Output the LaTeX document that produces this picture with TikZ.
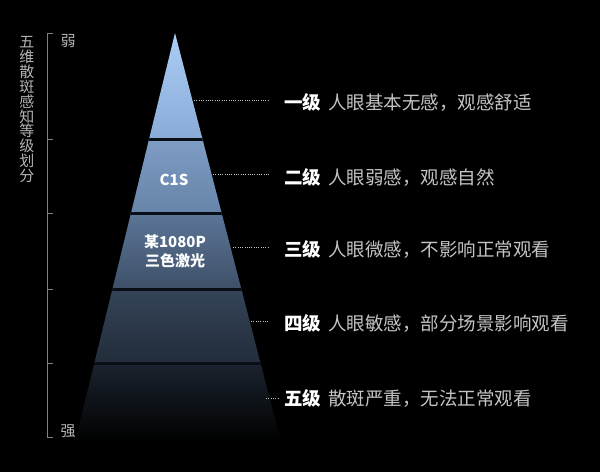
\documentclass[tikz,border=0pt]{standalone}
\usepackage{fontspec}
\setmainfont{Noto Sans CJK SC}
\usepackage{xcolor}
\usetikzlibrary{positioning}

\definecolor{descgray}{HTML}{C4C4C4}
\definecolor{sidegray}{HTML}{B4B4B4}
\definecolor{linegray}{HTML}{808080}
\definecolor{sepblue}{HTML}{0A0E16}
\definecolor{cA}{HTML}{ABCEF6}
\definecolor{cB}{HTML}{8AABD6}
\definecolor{cC}{HTML}{6683A8}
\definecolor{cD}{HTML}{3E5068}
\definecolor{cE}{HTML}{222C3A}

\begin{document}
\begin{tikzpicture}[
            x = 1pt, y = -1pt, % pixel grid
            level/.style = {anchor=west, inner sep=0pt, text=descgray,
                            font=\fontsize{18.5}{18.5}\selectfont},
            inside/.style = {inner sep=0pt, text=white, align=center,
                             font=\bfseries\fontsize{15}{19}\selectfont},
            side/.style = {inner sep=0pt, text=sidegray,
                           font=\fontsize{15}{15}\selectfont},
            dots/.style = {draw=descgray, line width=0.8pt, dash pattern=on 1pt off 1.3pt},
            sep/.style = {draw=sepblue, line width=3pt},
            thin/.style = {draw=linegray, line width=0.8pt}
        ]

\fill[black] (0,0) rectangle (600,472);
\useasboundingbox (0,0) rectangle (600,472);

% pyramid
\coordinate (apex) at (175,33);
\coordinate (bl) at (75,442);
\coordinate (br) at (281,442);

\begin{scope}
\clip (apex) -- (br) -- (bl) -- cycle;
\shade[top color=cA, bottom color=cB] (60,30) rectangle (300,139);
\shade[top color=cB!92!black, bottom color=cC] (60,139) rectangle (300,213);
\shade[top color=cC!90!black, bottom color=cD] (60,213) rectangle (300,289);
\shade[top color=cD!85!black, bottom color=cE] (60,289) rectangle (300,363);
\shade[top color=cE!80!black, bottom color=black] (60,363) rectangle (300,442);
\draw[sep] (60,139) -- (300,139);
\draw[sep] (60,213) -- (300,213);
\draw[sep] (60,289) -- (300,289);
\draw[sep] (60,363) -- (300,363);
\end{scope}

\node[inside] (c1s) at (174,180) {C1S};
\node[inside] (laser) at (175,251) {某1080P\\三色激光};

% levels
\node[level] (L1) at (284,102) {\textcolor{white}{\bfseries 一级}\hspace{7pt}人眼基本无感，观感舒适};
\node[level] (L2) at (284,177) {\textcolor{white}{\bfseries 二级}\hspace{7pt}人眼弱感，观感自然};
\node[level] (L3) at (284,249) {\textcolor{white}{\bfseries 三级}\hspace{7pt}人眼微感，不影响正常观看};
\node[level] (L4) at (284,323) {\textcolor{white}{\bfseries 四级}\hspace{7pt}人眼敏感，部分场景影响观看};
\node[level] (L5) at (284,398) {\textcolor{white}{\bfseries 五级}\hspace{7pt}散斑严重，无法正常观看};

\coordinate (e1) at (194,100);
\coordinate (e2) at (213,174);
\coordinate (e3) at (233,247);
\coordinate (e4) at (251,321);
\coordinate (e5) at (266,398);

\draw[dots, shorten >=15pt] (e1) -- (e1 -| L1.west);
\draw[dots, shorten >=15pt] (e2) -- (e2 -| L2.west);
\draw[dots, shorten >=15pt] (e3) -- (e3 -| L3.west);
\draw[dots, shorten >=15pt] (e4) -- (e4 -| L4.west);
\draw[dots, shorten >=6pt] (e5) -- (e5 -| L5.west);

% scale bracket
\coordinate (s0) at (47,33);
\coordinate (s5) at (47,437);
\draw[thin] (s0) -- (s5);
\foreach \y in {33,139,213,289,363,437}
  \draw[thin] (47,\y) -- (53,\y);

\node[side] (weak) at (68,41) {弱};
\node[side] (strong) at (68,431) {强};

\foreach \c [count=\i] in {五,维,散,斑,感,知,等,级,划,分}
  \node[side] (t\i) at (27,{27.6+14.8*\i}) {\c};

\end{tikzpicture}
\end{document}
